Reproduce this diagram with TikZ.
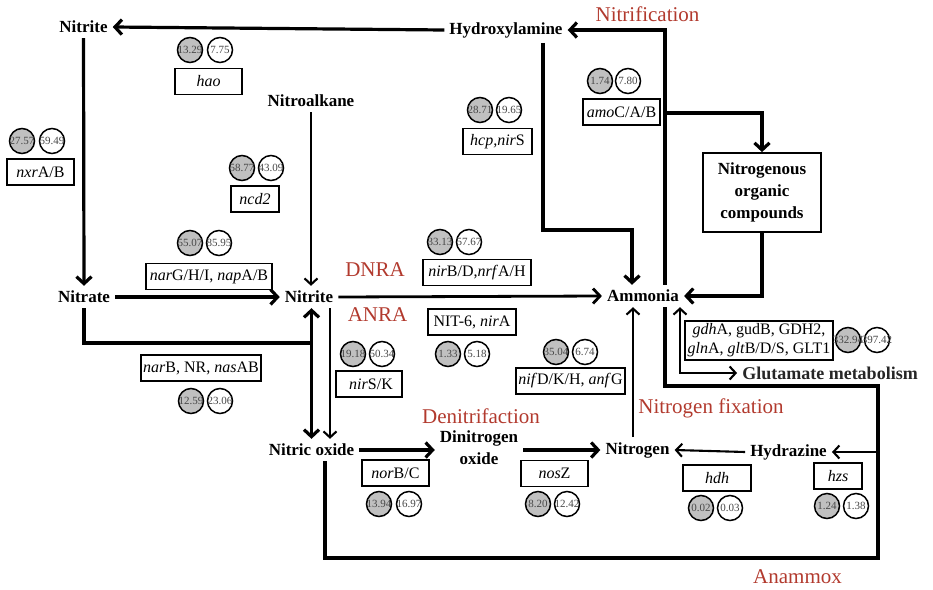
\documentclass[tikz,border=0pt]{standalone}
\usepackage{fontspec}
\setmainfont{Liberation Serif}
\usetikzlibrary{arrows.meta}
\definecolor{procred}{RGB}{178,58,46}
\definecolor{cellgray}{RGB}{192,192,192}
\newcommand{\val}[1]{\makebox[0pt]{#1}}

\tikzset{
  chem/.style={font=\bfseries\fontsize{17}{22}\selectfont, inner sep=5pt, align=center},
  proc/.style={text=procred, font=\fontsize{21}{24}\selectfont, inner sep=0pt},
  gene/.style={draw, line width=1.6pt, font=\fontsize{16}{19}\selectfont, minimum height=26pt, inner sep=2pt, align=center},
  gcirc/.style={circle, draw, line width=1.5pt, fill=cellgray, minimum size=25pt, inner sep=0pt, text=black!72, font=\fontsize{11}{12}\selectfont},
  wcirc/.style={gcirc, fill=white},
  bigline/.style={line width=3.2pt, -{Straight Barb[length=7pt,width=15pt]}},
  smallline/.style={line width=2.1pt, -{Straight Barb[length=6pt,width=13pt]}},
  bothline/.style={line width=3.2pt, {Straight Barb[length=7pt,width=15pt]}-{Straight Barb[length=7pt,width=15pt]}},
  bothsmall/.style={line width=2.1pt, {Straight Barb[length=6pt,width=13pt]}-{Straight Barb[length=6pt,width=13pt]}},
}

\begin{document}
\begin{tikzpicture}[%
      x=1pt, y=-1pt,
      ]
      \useasboundingbox (0,0) rectangle (933,589);

      \node[chem] (nitriteT) at (83.5,27) {Nitrite};
      \node[chem] (hydrox) at (506,30) {Hydroxylamine};
      \node[chem] (nitroalk) at (311,101) {Nitroalkane};
      \node[chem] (nitrate) at (84,297) {Nitrate};
      \node[chem] (nitriteM) at (309,297) {Nitrite};
      \node[chem] (ammonia) at (643,296) {Ammonia};
      \node[chem, draw, line width=1.8pt, minimum width=118pt, minimum height=79pt] (organic) at (762,192.5) {Nitrogenous\\organic\\compounds};
      \node[chem, text=black!85, font=\bfseries\fontsize{18}{22}\selectfont] (glut) at (830,373) {Glutamate metabolism};
      \node[chem] (nitric) at (311.5,450) {Nitric oxide};
      \node[chem] (dinitro) at (479,448) {Dinitrogen\\oxide};
      \node[chem] (nitrogen) at (637.5,450) {Nitrogen};
      \node[chem] (hydrazine) at (788.5,452) {Hydrazine};

      \node[proc] (nitrif) at (647.5,14) {Nitrification};
      \node[proc] (dnra) at (375,270) {DNRA};
      \node[proc] (anra) at (377.5,315) {ANRA};
      \node[proc] (denit) at (481,416) {Denitrifaction};
      \node[proc] (nfix) at (711,408) {Nitrogen fixation};
      \node[proc] (anammox) at (797.5,577) {Anammox};

      \node[gene, minimum width=67pt] (hao) at (208.5,81.5) {\textit{hao}};
      \node[gene, minimum width=67pt] (nxr) at (40.5,172) {\textit{nxr}A/B};
      \node[gene, minimum width=48pt] (ncd) at (255,199) {\textit{ncd2}};
      \node[gene, minimum width=69pt] (hcp) at (497.5,141.5) {\textit{hcp,nir}S};
      \node[gene, minimum width=77pt] (amo) at (621.5,112) {\textit{amo}C/A/B};
      \node[gene, minimum width=126pt] (narG) at (209,276.5) {\textit{nar}G/H/I, \textit{nap}A/B};
      \node[gene, minimum width=120pt] (narB) at (201,368) {\textit{nar}B, NR, \textit{nas}AB};
      \node[gene, minimum width=108pt] (nirB) at (477,272.5) {\textit{nir}B/D,\textit{nrf}A/H};
      \node[gene, minimum width=88pt] (nit6) at (472,322) {NIT-6, \textit{nir}A};
      \node[gene, minimum width=66pt] (nirSK) at (369,384) {\ \textit{nir}S/K};
      \node[gene, minimum width=109pt] (nif) at (570.5,381) {\textit{nif}D/K/H, \textit{anf}G};
      \node[gene, minimum width=148pt, minimum height=39pt, inner sep=1pt] (gdh) at (759,340.5) {\textit{gdh}A, gudB, GDH2,\\\textit{gln}A, \textit{glt}B/D/S, GLT1};
      \node[gene, minimum width=67pt] (nor) at (395.5,473) {\textit{nor}B/C};
      \node[gene, minimum width=67pt] (nos) at (554.5,473.5) {\textit{nos}Z};
      \node[gene, minimum width=68pt] (hdh) at (717,478) {\textit{hdh}};
      \node[gene, minimum width=48pt] (hzs) at (838,476) {\textit{hzs}};

      \node[gcirc] (haoG) at (190,50) {\val{13.29}};
      \node[wcirc] (haoW) at (220,50) {\val{7.75}};
      \node[gcirc] (nxrG) at (22,141) {\val{27.57}};
      \node[wcirc] (nxrW) at (52,141) {\val{59.49}};
      \node[gcirc] (ncdG) at (242,168) {\val{58.77}};
      \node[wcirc] (ncdW) at (271,168) {\val{43.09}};
      \node[gcirc] (hcpG) at (480,110) {\val{28.71}};
      \node[wcirc] (hcpW) at (509,110) {\val{19.65}};
      \node[gcirc] (amoG) at (600,81) {\val{1.74}};
      \node[wcirc] (amoW) at (628,81) {\val{7.80}};
      \node[gcirc] (narGG) at (190,243) {\val{55.07}};
      \node[wcirc] (narGW) at (219,243) {\val{85.95}};
      \node[gcirc] (narBG) at (191,401) {\val{12.59}};
      \node[wcirc] (narBW) at (220,401) {\val{23.06}};
      \node[gcirc] (nirBG) at (440,242) {\val{33.13}};
      \node[wcirc] (nirBW) at (469,242) {\val{57.67}};
      \node[gcirc] (nirSKG) at (353,354) {\val{19.18}};
      \node[wcirc] (nirSKW) at (382,354) {\val{50.34}};
      \node[gcirc] (nit6G) at (448,354) {\val{1.33}};
      \node[wcirc] (nit6W) at (477,354) {\val{5.18}};
      \node[gcirc] (nifG) at (556,352) {\val{35.04}};
      \node[wcirc] (nifW) at (585,352) {\val{6.74}};
      \node[gcirc] (gdhG) at (848,340) {\val{332.94}};
      \node[wcirc] (gdhW) at (877,340) {\val{397.42}};
      \node[gcirc] (norG) at (379,504) {\val{13.94}};
      \node[wcirc] (norW) at (409,504) {\val{16.97}};
      \node[gcirc] (nosG) at (538,504) {\val{8.20}};
      \node[wcirc] (nosW) at (567,504) {\val{12.42}};
      \node[gcirc] (hdhG) at (701,508) {\val{0.02}};
      \node[wcirc] (hdhW) at (730,508) {\val{0.03}};
      \node[gcirc] (hzsG) at (827,506) {\val{1.24}};
      \node[wcirc] (hzsW) at (856,506) {\val{1.38}};

      \coordinate (nrJ) at (311,343);
      \coordinate (no2X) at (330,0);
      \coordinate (hxA) at (543,230);
      \coordinate (amX) at (632,0);
      \coordinate (nitX) at (665,0);
      \coordinate (amoJ) at (665,113);
      \coordinate (glX) at (680,0);
      \coordinate (fixX) at (633,0);
      \coordinate (noX) at (325,0);
      \coordinate (amxNE) at (878,386);
      \coordinate (amxSE) at (878,558);

      \draw[bigline] (hydrox.west) -- (nitriteT.east);
      \draw[bigline] (nitriteT.south) -- (nitrate.north);
      \draw[bigline] (nitrate.east) -- (nitriteM.west);
      \draw[line width=3.2pt] (nitrate.south) |- (nrJ);
      \draw[smallline] (nitroalk.south) -- (nitroalk.south |- nitriteM.north);
      \draw[bothline] (nitriteM.south -| nitric.north) -- (nitric.north);
      \draw[smallline] (nitriteM.south -| no2X) -- (nitric.north -| no2X);
      \draw[bigline, line width=2.8pt] (nitriteM.east) -- (ammonia.west);
      \draw[bigline] (hydrox.south -| hxA) -- (hxA) -| (ammonia.north -| amX);
      \draw[bigline] (ammonia.north -| nitX) |- (hydrox.east);
      \draw[bigline] (amoJ) -| (organic.north);
      \draw[bigline] (organic.south) |- (ammonia.east);
      \draw[bothsmall] (ammonia.south -| glX) |- (glut.west);
      \draw[line width=3.2pt] (ammonia.south -| nitX) |- (amxNE) -- (amxSE) -| (nitric.south -| noX);
      \draw[smallline] (amxNE |- hydrazine) -- (hydrazine.east);
      \draw[smallline] (hydrazine.west) -- (nitrogen.east);
      \draw[smallline] (nitrogen.north -| fixX) -- (ammonia.south -| fixX);
      \draw[bigline] (nitric.east) -- (nitric.east -| dinitro.west);
      \draw[bigline] (dinitro.east |- nitrogen) -- (nitrogen.west);
      \end{tikzpicture}
\end{document}
